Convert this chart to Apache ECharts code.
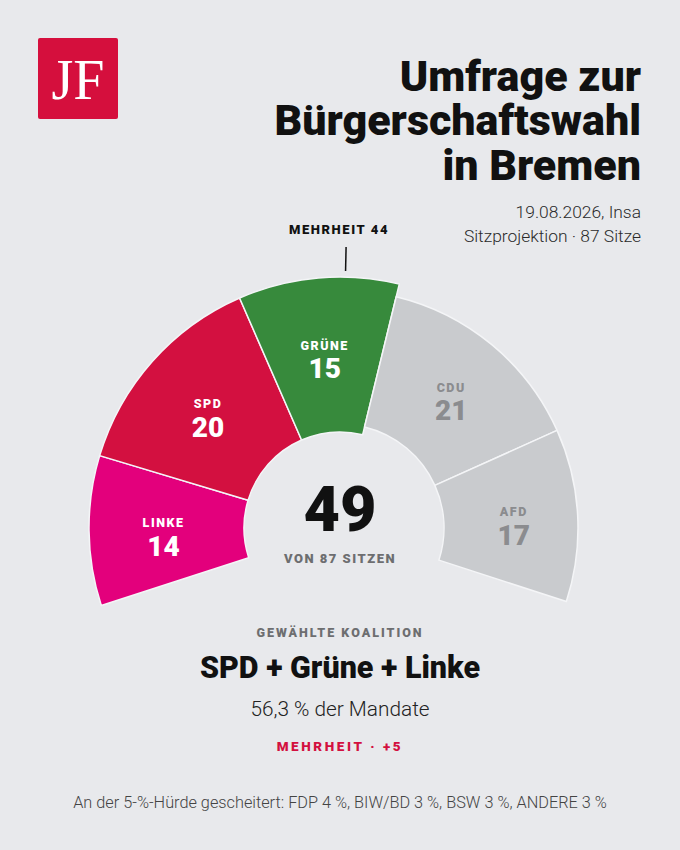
<!DOCTYPE html>
<html>
<head>
<meta charset="utf-8">
<script src="https://cdn.jsdelivr.net/npm/echarts@6/dist/echarts.min.js"></script>
<style>
html,body{margin:0;padding:0;background:#e8e9ec;}
#c{width:680px;height:850px;}
</style>
</head>
<body>
<div id="c"></div>
<script>
// ---- data ----
const parties = ['LINKE', 'SPD', 'GRÜNE', 'CDU', 'AFD'];
const seats = [14, 20, 15, 21, 17];
const partyColors = ['#e3007c', '#d31040', '#378a3c', '#c9cbce', '#c9cbce'];
const inCoalition = [true, true, true, false, false];
const totalSeats = 87;
const majority = 44;
const titleLines = ['Umfrage zur', 'Bürgerschaftswahl', 'in Bremen'];
const subtitleLines = ['19.08.2026, Insa', 'Sitzprojektion · 87 Sitze'];
const coalitionLabel = 'SPD + Grüne + Linke';
const failedParties = ['FDP 4 %', 'BIW/BD 3 %', 'BSW 3 %', 'ANDERE 3 %'];

// ---- derived ----
const coalitionSeats = seats.reduce((s, v, i) => s + (inCoalition[i] ? v : 0), 0);
const sharePct = (coalitionSeats / totalSeats * 100).toFixed(1).replace('.', ',');
const margin = coalitionSeats - majority;

const BOLD = 'Roboto, "Liberation Sans", Arial, sans-serif';
const LIGHT = 'Roboto, "Liberation Sans", Arial, sans-serif';
const SERIF = '"Liberation Serif", "Times New Roman", serif';
const CX = 340, CY = 528, START = 198, END = -18;

const chart = echarts.init(document.getElementById('c'), null, {renderer: 'svg', width: 680, height: 850});

function pieSeries(coal, radius) {
  return {
    type: 'pie',
    center: [CX, CY],
    radius: radius,
    startAngle: START,
    endAngle: END,
    clockwise: true,
    silent: true,
    animation: false,
    avoidLabelOverlap: false,
    minShowLabelAngle: 0,
    emphasis: {disabled: true},
    labelLine: {show: false},
    label: {
      position: 'inside',
      padding: [16, 0, 0, 0],
      formatter: p => '{n|' + p.name + '}\n{v|' + p.value + '}',
      rich: {
        n: {fontSize: 12.5, fontWeight: 900, fontFamily: BOLD, lineHeight: 17},
        v: {fontSize: 28, fontWeight: 900, fontFamily: BOLD, lineHeight: 30}
      }
    },
    data: parties.map((name, i) => {
      const own = inCoalition[i] === coal;
      return {
        name: name,
        value: seats[i],
        itemStyle: own
          ? {color: partyColors[i], borderColor: '#f4f5f7', borderWidth: 1.5}
          : {color: 'rgba(0,0,0,0)', borderWidth: 0},
        label: {show: own, color: coal ? '#ffffff' : '#8b8c8f'}
      };
    })
  };
}

// majority tick position derived from seat scale
const majAngle = (START - (majority / totalSeats) * (START - END)) * Math.PI / 180;
const tick = {
  x1: CX + 257 * Math.cos(majAngle), y1: CY - 257 * Math.sin(majAngle),
  x2: CX + 281 * Math.cos(majAngle), y2: CY - 281 * Math.sin(majAngle)
};

function txt(text, x, y, size, weight, color, align, family) {
  return {
    type: 'text', silent: true,
    style: {
      text: text, x: x, y: y, fontSize: size, fontWeight: weight || 'normal',
      fontFamily: family || LIGHT, fill: color, textAlign: align || 'center',
      textVerticalAlign: 'middle'
    }
  };
}

const graphics = [
  {type: 'rect', silent: true, shape: {x: 38, y: 38, width: 80, height: 81, r: 2}, style: {fill: '#d50f3d'}},
  txt('JF', 78, 80, 56, 'normal', '#ffffff', 'center', SERIF),
  txt(titleLines[0], 641, 75.5, 43, 900, '#111111', 'right', BOLD),
  txt(titleLines[1], 641, 120, 43, 900, '#111111', 'right', BOLD),
  txt(titleLines[2], 641, 164.5, 43, 900, '#111111', 'right', BOLD),
  txt(subtitleLines[0], 641, 212, 17.4, 300, '#2a2a2a', 'right', LIGHT),
  txt(subtitleLines[1], 641, 235.5, 17.4, 300, '#2a2a2a', 'right', LIGHT),
  txt('MEHRHEIT ' + majority, 339, 229, 13, 900, '#111111', 'center', BOLD),
  {type: 'line', silent: true, shape: tick, style: {stroke: '#111111', lineWidth: 1.5}},
  txt(String(coalitionSeats), 340, 509, 63, 900, '#111111', 'center', BOLD),
  txt('VON ' + totalSeats + ' SITZEN', 340, 558.5, 13, 900, '#6d6e70', 'center', BOLD),
  txt('GEWÄHLTE KOALITION', 340, 632, 12.5, 900, '#6d6e70', 'center', BOLD),
  txt(coalitionLabel, 340, 667, 30.5, 900, '#111111', 'center', BOLD),
  txt(sharePct + ' % der Mandate', 340, 708.5, 20.8, 300, '#222222', 'center', LIGHT),
  txt('MEHRHEIT · +' + margin, 340, 746, 13.5, 900, '#d31040', 'center', BOLD),
  txt('An der 5-%-Hürde gescheitert: ' + failedParties.join(', '), 340, 802, 16.3, 300, '#444444', 'center', LIGHT)
];

chart.setOption({
  backgroundColor: '#e8e9ec',
  animation: false,
  series: [pieSeries(true, [96, 251]), pieSeries(false, [104, 238])],
  graphic: graphics
});

// letter spacing for the tracked uppercase labels
const spacing = {};
parties.forEach(p => spacing[p] = 1.5);
spacing['MEHRHEIT ' + majority] = 1.6;
spacing['VON ' + totalSeats + ' SITZEN'] = 1.5;
spacing['GEWÄHLTE KOALITION'] = 2.0;
spacing['MEHRHEIT · +' + margin] = 2.6;
function applySpacing() {
  document.querySelectorAll('#c text').forEach(t => {
    const s = spacing[t.textContent];
    if (s != null) t.style.letterSpacing = s + 'px';
  });
}
chart.on('rendered', applySpacing);
chart.on('finished', applySpacing);
setTimeout(applySpacing, 0);
</script>
</body>
</html>
